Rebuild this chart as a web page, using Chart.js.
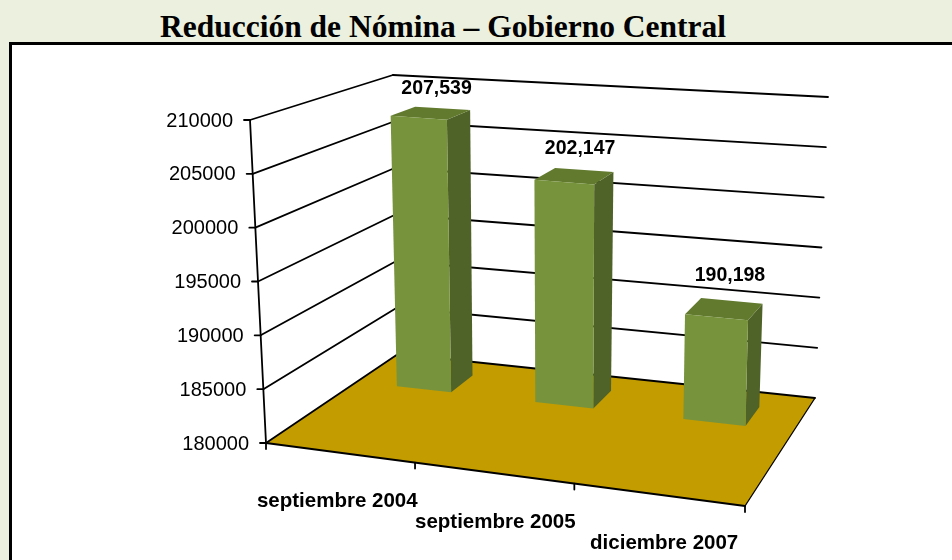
<!DOCTYPE html>
<html>
<head>
<meta charset="utf-8">
<script src="https://cdn.jsdelivr.net/npm/chart.js@4.4.0/dist/chart.umd.min.js"></script>
<style>
  html, body { margin: 0; padding: 0; }
  body { width: 952px; height: 560px; background: #ebf1de; position: relative; overflow: hidden; }
  #titulo {
    position: absolute; left: 0; top: 9px; width: 886px; text-align: center;
    font-family: "Liberation Serif", "DejaVu Serif", serif; font-weight: bold; font-size: 31.5px; color: #000;
  }
  #marco {
    position: absolute; left: 9px; top: 42px; width: 960px; height: 540px;
    border: 3px solid #000; background: #fff;
  }
  #grafico { position: absolute; left: 0; top: 0; }
</style>
</head>
<body>
<div id="titulo">Reducción de Nómina – Gobierno Central</div>
<div id="marco"></div>
<canvas id="grafico" width="952" height="560"></canvas>
<script>
// datos de la nómina
const categorias = ['septiembre 2004', 'septiembre 2005', 'diciembre 2007'];
const empleados = [207539, 202147, 190198];
const ticksY = [180000, 185000, 190000, 195000, 200000, 205000, 210000];

// esquinas de la caja 3D en pantalla (u = categoria, v = valor, w = profundidad)
const caja = {
  piso: { a: [266, 443], b: [745, 506], c: [398, 354], d: [815, 398] },
  techo: { a: [250, 120], b: [746, 166], c: [393, 75], d: [828, 97] }
};
const fuga = 1.107; // el lado derecho queda mas cerca
const profFrente = 0.69, profFondo = 0.87;

function mezcla(p, u, w) {
  u = u / (fuga - (fuga - 1) * u);
  const k = [(1 - u) * (1 - w), u * (1 - w), (1 - u) * w, u * w];
  return [
    k[0] * p.a[0] + k[1] * p.b[0] + k[2] * p.c[0] + k[3] * p.d[0],
    k[0] * p.a[1] + k[1] * p.b[1] + k[2] * p.c[1] + k[3] * p.d[1]
  ];
}
function proy(u, v, w) {
  const p0 = mezcla(caja.piso, u, w), p1 = mezcla(caja.techo, u, w);
  return [p0[0] + (p1[0] - p0[0]) * v, p0[1] + (p1[1] - p0[1]) * v];
}
function poligono(ctx, pts, relleno) {
  ctx.beginPath();
  pts.forEach(function(p, i) { i ? ctx.lineTo(p[0], p[1]) : ctx.moveTo(p[0], p[1]); });
  ctx.closePath();
  ctx.fillStyle = relleno;
  ctx.fill();
}
function linea(ctx, p, q, ancho) {
  ctx.beginPath();
  ctx.moveTo(p[0], p[1]);
  ctx.lineTo(q[0], q[1]);
  ctx.lineWidth = ancho || 1.8;
  ctx.strokeStyle = '#000';
  ctx.stroke();
}

const vista3d = {
  id: 'vista3d',
  beforeDatasetsDraw(chart) {
    const ctx = chart.ctx, area = chart.chartArea, ejeY = chart.scales.y;
    const U = function(px) { return (px - area.left) / (area.right - area.left); };
    const V = function(py) { return Math.max(0, (area.bottom - py) / (area.bottom - area.top)); };
    ctx.save();
    ctx.lineCap = 'round';

    // piso
    poligono(ctx, [proy(0, 0, 0), proy(1, 0, 0), proy(1, 0, 1), proy(0, 0, 1)], '#c39c00');

    // lineas de cuadricula en pared lateral y de fondo
    ticksY.forEach(function(t) {
      const v = V(ejeY.getPixelForValue(t));
      linea(ctx, proy(0, v, 0), proy(0, v, 1));
      linea(ctx, proy(0, v, 1), proy(1, v, 1));
      const p = proy(0, v, 0);
      linea(ctx, [p[0] - 6, p[1]], p);
    });
    // eje vertical
    linea(ctx, proy(0, 0, 0), proy(0, 1, 0));
    // bordes del piso y marcas de categoria
    linea(ctx, proy(0, 0, 0), proy(1, 0, 0));
    linea(ctx, proy(1, 0, 0), proy(1, 0, 1), 1.3);
    for (let i = 0; i <= categorias.length; i++) {
      const p = proy(i / categorias.length, 0, 0);
      linea(ctx, p, [p[0], p[1] + 6]);
    }

    // etiquetas del eje Y
    ctx.fillStyle = '#000';
    ctx.font = '20px "Liberation Sans", Arial, sans-serif';
    ctx.textAlign = 'right';
    ctx.textBaseline = 'middle';
    ticksY.forEach(function(t) {
      const p = proy(0, V(ejeY.getPixelForValue(t)), 0);
      ctx.fillText(String(t), p[0] - 17, p[1] + 1);
    });

    // barras
    const meta = chart.getDatasetMeta(0);
    meta.data.forEach(function(bar, i) {
      const u0 = U(bar.x - bar.width / 2), u1 = U(bar.x + bar.width / 2);
      const v0 = V(bar.base), v1 = V(bar.y);
      const f = profFrente, b = profFondo;
      poligono(ctx, [proy(u1, v0, f), proy(u1, v0, b), proy(u1, v1, b), proy(u1, v1, f)], '#4f6228');
      poligono(ctx, [proy(u0, v1, f), proy(u1, v1, f), proy(u1, v1, b), proy(u0, v1, b)], '#617a2e');
      poligono(ctx, [proy(u0, v0, f), proy(u1, v0, f), proy(u1, v1, f), proy(u0, v1, f)], '#77933c');

      // valor
      const uc = U(bar.x);
      const px = proy(uc, v1, (f + b) / 2)[0] + 6;
      const py = proy(uc, v1, 1)[1] - 13;
      ctx.font = 'bold 19.5px "Liberation Sans", Arial, sans-serif';
      ctx.textAlign = 'center';
      ctx.fillStyle = '#000';
      ctx.fillText(empleados[i].toLocaleString('en-US'), px, py);

      // categoria
      const q = proy(uc, 0, 0);
      ctx.font = 'bold 20.5px "Liberation Sans", Arial, sans-serif';
      ctx.fillText(categorias[i], q[0] - 4 + 12 * uc, q[1] + 49);
    });

    ctx.restore();
    return false;
  }
};

new Chart(document.getElementById('grafico'), {
  type: 'bar',
  data: {
    labels: categorias,
    datasets: [{
      label: 'Nómina',
      data: empleados,
      base: ticksY[0],
      backgroundColor: '#77933c',
      categoryPercentage: 0.8,
      barPercentage: 0.5
    }]
  },
  options: {
    responsive: false,
    animation: false,
    devicePixelRatio: 1,
    layout: { padding: 0 },
    plugins: { legend: { display: false }, tooltip: { enabled: false } },
    scales: {
      x: { display: false },
      y: { display: false, min: 180000, max: 210000, ticks: { stepSize: 5000 } }
    }
  },
  plugins: [vista3d]
});
</script>
</body>
</html>
